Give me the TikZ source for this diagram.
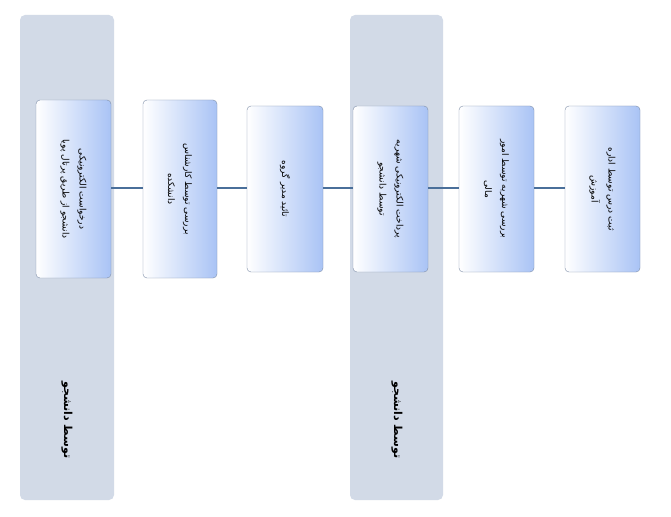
\documentclass[tikz,border=0pt]{standalone}
\usepackage{fontspec}
\TeXXeTstate=1
\newfontfamily\arabicfont[Script=Arabic]{DejaVu Sans}
\definecolor{lanec}{HTML}{D2DAE7}
\definecolor{lined}{HTML}{4A6F9A}
\definecolor{boxb}{HTML}{A9C3F5}
\definecolor{boxe}{HTML}{7F8FA8}
\tikzset{
 lane/.style={fill=lanec,rounded corners=5pt,draw=none},
 stepbox/.style={draw=boxe,rounded corners=4pt,left color=white,right color=boxb},
 lbl/.style={rotate=-90,align=center,font=\arabicfont\fontsize{9}{17}\selectfont},
 lanelbl/.style={rotate=-90,font=\arabicfont\bfseries\fontsize{11}{13}\selectfont},
 conn/.style={draw=lined,line width=2pt}
}
\begin{document}
\begin{tikzpicture}[x=1pt,y=-1pt]
\useasboundingbox (0,0) rectangle (671,516);
\fill[white] (0,0) rectangle (671,516);
\path[lane] (20,15) rectangle (114,500);
\path[lane] (350,15) rectangle (443,500);
\node[lanelbl] (l1) at (67,420) {\beginR توسط دانشجو\endR};
\node[lanelbl] (l2) at (397,420) {\beginR توسط دانشجو\endR};
\path[stepbox] (36,100) rectangle (111,278) coordinate (b1se);
\coordinate (b1) at (73.5,189);
\path[stepbox] (143,100) rectangle (217,278);
\coordinate (b2) at (180,189);
\path[stepbox] (247,106) rectangle (323,272);
\coordinate (b3) at (285,189);
\path[stepbox] (353,106) rectangle (428,272);
\coordinate (b4) at (390.5,189);
\path[stepbox] (459,106) rectangle (534,272);
\coordinate (b5) at (496.5,189);
\path[stepbox] (565,106) rectangle (640,272);
\coordinate (b6) at (602.5,189);
\draw[conn] (111,188) -- (143,188);
\draw[conn] (217,188) -- (247,188);
\draw[conn] (323,188) -- (353,188);
\draw[conn] (428,188) -- (459,188);
\draw[conn] (534,188) -- (565,188);
\node[lbl] (t1) at (b1) {\beginR درخواست الکترونیکی\endR\\\beginR دانشجو از طریق پرتال پویا\endR};
\node[lbl] (t2) at (b2) {\beginR بررسی توسط کارشناس\endR\\\beginR دانشکده\endR};
\node[lbl] (t3) at (b3) {\beginR تائید مدیر گروه\endR};
\node[lbl] (t4) at (b4) {\beginR پرداخت الکترونیکی شهریه\endR\\\beginR توسط دانشجو\endR};
\node[lbl] (t5) at (b5) {\beginR بررسی شهریه توسط امور\endR\\\beginR مالی\endR};
\node[lbl] (t6) at (b6) {\beginR ثبت درس توسط اداره\endR\\\beginR آموزش\endR};
\end{tikzpicture}
\end{document}
